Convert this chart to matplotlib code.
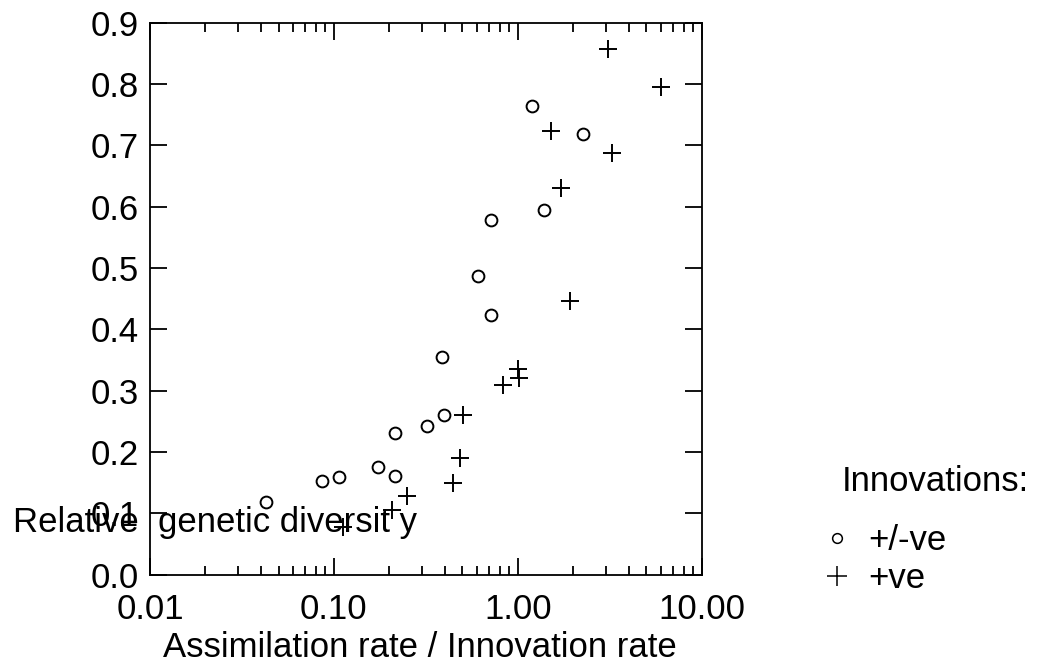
import matplotlib
matplotlib.use("Agg")
import matplotlib.pyplot as plt
from matplotlib.ticker import FixedLocator, LogLocator, NullFormatter
from matplotlib.lines import Line2D

# innovations +/-ve (circles)
mixed_x = [0.0427, 0.0857, 0.107, 0.174, 0.216, 0.214, 0.319, 0.395, 0.389,
           0.719, 0.611, 0.711, 1.384, 2.26, 1.202]
mixed_y = [0.1185, 0.152, 0.160, 0.176, 0.161, 0.2315, 0.2425, 0.260, 0.355,
           0.4235, 0.487, 0.578, 0.5947, 0.718, 0.764]

# innovations +ve (crosses)
pos_x = [0.1124, 0.206, 0.250, 0.445, 0.484, 0.504, 0.832, 1.004, 1.01,
         1.917, 1.728, 1.524, 3.27, 3.097, 6.04]
pos_y = [0.078, 0.1055, 0.128, 0.149, 0.1908, 0.2604, 0.309, 0.335, 0.321,
         0.446, 0.630, 0.724, 0.688, 0.857, 0.795]

x_ticks = [0.01, 0.1, 1.0, 10.0]
x_labels = ["0.01", "0.10", "1.00", "10.00"]
y_ticks = [0.0, 0.1, 0.2, 0.3, 0.4, 0.5, 0.6, 0.7, 0.8, 0.9]

plt.rcParams['font.family'] = ['Liberation Sans', 'DejaVu Sans']
fs = 25

W, H = 1040, 671
fig = plt.figure(figsize=(W / 100, H / 100), dpi=100)
ax = fig.add_axes([150 / W, (H - 574.7) / H, 551.7 / W, 552 / H])

ax.plot(mixed_x, mixed_y, linestyle='none', marker='o', markersize=8.5,
        markerfacecolor='none', markeredgecolor='black', markeredgewidth=1.4)
ax.plot(pos_x, pos_y, linestyle='none', marker='+', markersize=13,
        color='black', markeredgewidth=1.4)

ax.set_xscale('log')
ax.set_xlim(0.01, 10)
ax.set_ylim(0, 0.9)
ax.xaxis.set_major_locator(FixedLocator(x_ticks))
ax.set_xticklabels(x_labels)
ax.xaxis.set_minor_locator(LogLocator(base=10, subs=range(2, 10)))
ax.xaxis.set_minor_formatter(NullFormatter())
ax.set_yticks(y_ticks)
ax.set_yticklabels(["%.1f" % v for v in y_ticks])

ax.tick_params(which='both', direction='in', top=True, right=True,
               labelsize=fs, width=1.3, colors='black')
ax.tick_params(which='major', length=12)
ax.tick_params(axis='y', which='major', pad=8)
ax.tick_params(axis='x', which='major', pad=13)
ax.tick_params(which='minor', length=6.5)
for s in ax.spines.values():
    s.set_linewidth(1.3)

# axis titles, placed like the original
fig.text(420 / W, 1 - 657 / H, "Assimilation rate / Innovation rate",
         fontsize=fs, va='baseline', ha='center')
fig.text(13 / W, 1 - 532 / H, "Relative  genetic diversit y",
         fontsize=fs, va='baseline', ha='left')

fig.text(842 / W, 1 - 491 / H, "Innovations:", fontsize=fs,
         va='baseline', ha='left')
handles = [
    Line2D([], [], linestyle='none', marker='o', markersize=7,
           markerfacecolor='none', markeredgecolor='black', markeredgewidth=1.1),
    Line2D([], [], linestyle='none', marker='+', markersize=14,
           color='black', markeredgewidth=1.1),
]
leg = fig.legend(handles, ["+/-ve", "+ve"],
                 loc='upper left', bbox_to_anchor=(820 / W, 1 - 524 / H),
                 frameon=False, fontsize=fs, borderpad=0, borderaxespad=0,
                 handlelength=1.0, handletextpad=0.4, labelspacing=0.14)

fig.savefig("out.png", dpi=100)
